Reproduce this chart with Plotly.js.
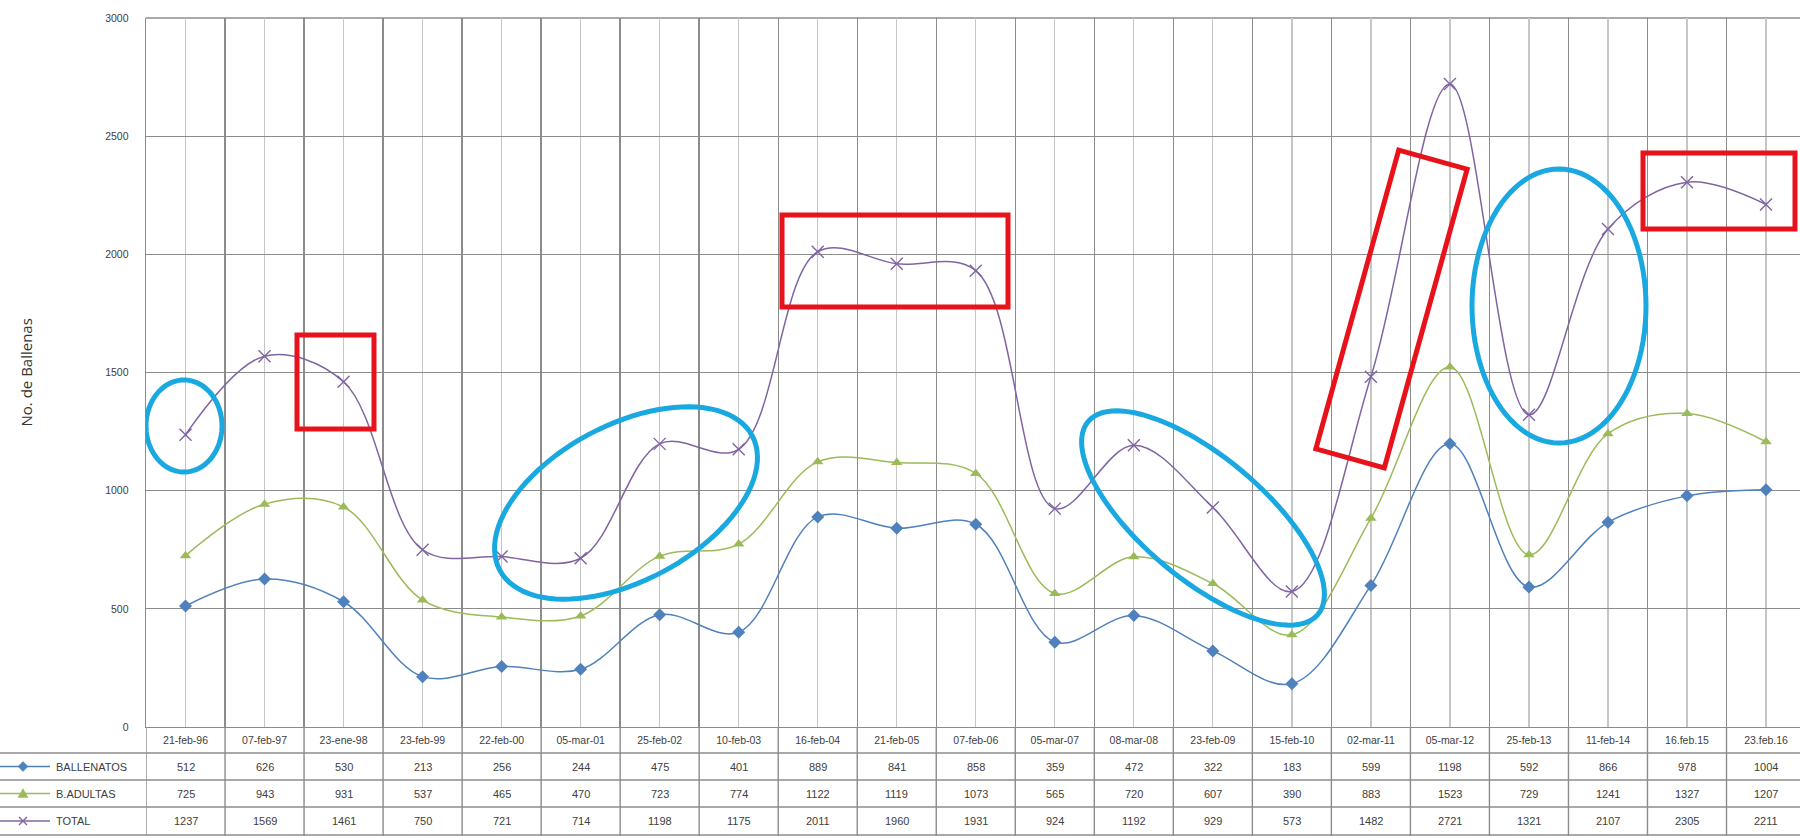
<!DOCTYPE html>
<html>
<head>
<meta charset="utf-8">
<script src="https://cdn.plot.ly/plotly-3.0.1.min.js"></script>
<style>html,body{margin:0;padding:0;background:#fff;}#chart{width:1800px;height:836px;}</style>
</head>
<body>
<div id="chart"></div>
<script>
// ---- data ----
const categories = ['21-feb-96','07-feb-97','23-ene-98','23-feb-99','22-feb-00','05-mar-01','25-feb-02','10-feb-03','16-feb-04','21-feb-05','07-feb-06','05-mar-07','08-mar-08','23-feb-09','15-feb-10','02-mar-11','05-mar-12','25-feb-13','11-feb-14','16.feb.15','23.feb.16'];
const ballenatos = [512, 626, 530, 213, 256, 244, 475, 401, 889, 841, 858, 359, 472, 322, 183, 599, 1198, 592, 866, 978, 1004];
const adultas    = [725, 943, 931, 537, 465, 470, 723, 774, 1122, 1119, 1073, 565, 720, 607, 390, 883, 1523, 729, 1241, 1327, 1207];
const total      = [1237, 1569, 1461, 750, 721, 714, 1198, 1175, 2011, 1960, 1931, 924, 1192, 929, 573, 1482, 2721, 1321, 2107, 2305, 2211];
const seriesNames = ['BALLENATOS', 'B.ADULTAS', 'TOTAL'];
const yTitle = 'No. de Ballenas';
const yTicks = [0, 500, 1000, 1500, 2000, 2500, 3000];

// ---- layout geometry ----
const FIG_W = 1800, FIG_H = 836;
const M = {l: 146, r: 0, t: 18, b: 109};
const PW = FIG_W - M.l - M.r, PH = FIG_H - M.t - M.b;
const XR = [-0.5, 20.43], YR = [0, 3000];
const idx = categories.map((c, i) => i);
const px2x = px => XR[0] + (px - M.l) / PW * (XR[1] - XR[0]);
const py2y = py => YR[0] + (M.t + PH - py) / PH * (YR[1] - YR[0]);
const px2paper = px => (px - M.l) / PW;
const py2paper = py => (M.t + PH - py) / PH;

const colors = {blue: '#4F81BD', green: '#9BBB59', purple: '#8064A2', grid: '#8c8c8c', light: '#c6c6c6', text: '#404040'};
const seriesData = [ballenatos, adultas, total];
const seriesColors = [colors.blue, colors.green, colors.purple];
const seriesSymbols = ['diamond', 'triangle-up', 'x-thin-open'];

const traces = seriesData.map((vals, s) => ({
  type: 'scatter', mode: 'lines+markers', name: seriesNames[s],
  x: idx, y: vals,
  line: {color: seriesColors[s], width: 1.5, shape: 'spline', smoothing: 1},
  marker: {symbol: seriesSymbols[s], size: s === 2 ? 12 : 10, color: seriesColors[s],
           line: {color: seriesColors[s], width: s === 2 ? 1.4 : 0}},
  showlegend: false, cliponaxis: false
}));

const shapes = [];
const annotations = [];
const tableFont = {family: 'Liberation Sans, Arial', size: 11, color: colors.text};

// ---- data table ----
const rowEdges = [727, 753, 780, 807, 835];
for (let r = 1; r < rowEdges.length; r++) {
  shapes.push({type: 'line', xref: 'paper', yref: 'paper', x0: px2paper(0), x1: 1,
    y0: py2paper(rowEdges[r]), y1: py2paper(rowEdges[r]), line: {color: colors.grid, width: 1.3}, layer: 'above'});
}
for (let i = -1; i < categories.length; i++) {
  shapes.push({type: 'line', xref: 'x', yref: 'paper', x0: i + 0.5, x1: i + 0.5,
    y0: 0, y1: py2paper(FIG_H), line: {color: colors.grid, width: 1.4}, layer: 'above'});
}
const keyPaths = [
  'M 0 5 L 5 0 L 0 -5 L -5 0 Z',
  'M -5 -4 L 5 -4 L 0 5 Z',
  'M -4 -4 L 4 4 M -4 4 L 4 -4'
];
seriesData.forEach((vals, s) => {
  const yc = py2paper((rowEdges[s + 1] + rowEdges[s + 2]) / 2);
  vals.forEach((v, i) => annotations.push({xref: 'x', yref: 'paper', x: i, y: yc, xanchor: 'center', yanchor: 'middle',
    text: String(v), showarrow: false, font: tableFont}));
  // legend key
  shapes.push({type: 'line', xref: 'paper', yref: 'paper', x0: px2paper(0), x1: px2paper(50), y0: yc, y1: yc,
    line: {color: seriesColors[s], width: 1.5}, layer: 'above'});
  shapes.push({type: 'path', xref: 'paper', yref: 'paper', xsizemode: 'pixel', ysizemode: 'pixel',
    xanchor: px2paper(23), yanchor: yc, path: keyPaths[s],
    fillcolor: s === 2 ? 'rgba(0,0,0,0)' : seriesColors[s], line: {color: seriesColors[s], width: s === 2 ? 1.4 : 0.5}, layer: 'above'});
  annotations.push({xref: 'paper', yref: 'paper', x: px2paper(54), y: yc, xanchor: 'left', yanchor: 'middle',
    text: seriesNames[s], showarrow: false, font: tableFont});
});

// y title
annotations.push({xref: 'paper', yref: 'paper', x: px2paper(25), y: 0.5, xanchor: 'center', yanchor: 'middle',
  text: yTitle, textangle: -90, showarrow: false, font: {family: 'Open Sans, Liberation Sans', size: 15, color: '#333'}});

// ---- highlight marks (pixel geometry) ----
const cyan = '#19A9E0', red = '#E8121A';
function ellipse(cx, cy, a, b, ang) {
  const t = ang * Math.PI / 180, pts = [];
  for (let k = 0; k <= 96; k++) {
    const u = k / 96 * 2 * Math.PI;
    const ex = a * Math.cos(u), ey = b * Math.sin(u);
    const X = cx + ex * Math.cos(t) - ey * Math.sin(t);
    const Y = cy + ex * Math.sin(t) + ey * Math.cos(t);
    pts.push(px2x(X).toFixed(4) + ',' + py2y(Y).toFixed(2));
  }
  return 'M' + pts.join(' L') + ' Z';
}
function rect(cx, cy, w, h, ang) {
  const t = ang * Math.PI / 180;
  const c = [[-w/2,-h/2],[w/2,-h/2],[w/2,h/2],[-w/2,h/2]].map(([ex, ey]) => {
    const X = cx + ex * Math.cos(t) - ey * Math.sin(t);
    const Y = cy + ex * Math.sin(t) + ey * Math.cos(t);
    return px2x(X).toFixed(4) + ',' + py2y(Y).toFixed(2);
  });
  return 'M' + c.join(' L') + ' Z';
}
const marks = [
  {p: ellipse(184, 426, 38, 46, 0), c: cyan},
  {p: ellipse(626, 503, 143, 78, -28), c: cyan},
  {p: ellipse(1203, 518, 150, 61, 40), c: cyan},
  {p: ellipse(1559, 306, 87, 137, 0), c: cyan},
  {p: rect(335.5, 382, 77, 94, 0), c: red},
  {p: rect(895, 261, 226, 92, 0), c: red},
  {p: rect(1719, 191, 152, 76, 0), c: red},
  {p: rect(1391.5, 309, 71, 310, 15.5), c: red}
];
marks.forEach(m => shapes.push({type: 'path', xref: 'x', yref: 'y', path: m.p,
  line: {color: m.c, width: 5}, fillcolor: 'rgba(0,0,0,0)', layer: 'above'}));

shapes.push({type: 'line', xref: 'paper', yref: 'paper', x0: 0, x1: 1, y0: 1, y1: 1, line: {color: colors.grid, width: 1.4}, layer: 'below'});

const layout = {
  width: FIG_W, height: FIG_H, margin: M, paper_bgcolor: '#fff', plot_bgcolor: '#fff',
  showlegend: false,
  xaxis: {range: XR, tickmode: 'array', tickvals: idx, ticktext: categories, ticks: '',
    showgrid: true, gridcolor: colors.light, gridwidth: 1.3, zeroline: false,
    minor: {tick0: 0.5, dtick: 1, showgrid: true, gridcolor: colors.grid, gridwidth: 1.4},
    showline: true, linecolor: colors.grid, linewidth: 1.4,
    tickfont: {family: 'Liberation Sans, Arial', size: 10.5, color: colors.text}, ticklabelstandoff: 3},
  yaxis: {range: YR, tickmode: 'array', tickvals: yTicks, ticks: '', showgrid: true, gridcolor: colors.grid, gridwidth: 1.3,
    zeroline: false, showline: true, linecolor: colors.grid, linewidth: 1.4, mirror: false,
    tickfont: {family: 'Liberation Sans, Arial', size: 10.5, color: colors.text}, ticklabelstandoff: 14},
  shapes: shapes, annotations: annotations
};

Plotly.newPlot('chart', traces, layout, {staticPlot: true});
</script>
</body>
</html>
